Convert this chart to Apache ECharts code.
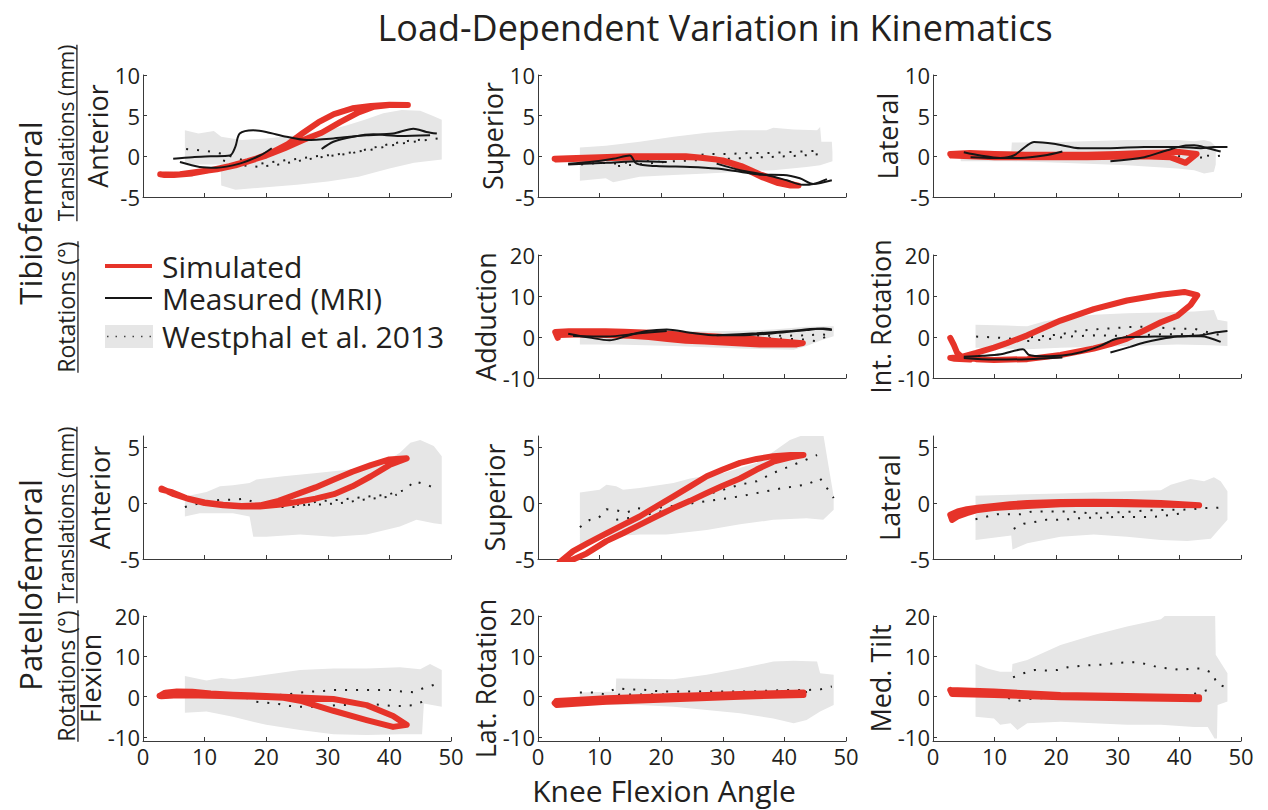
<!DOCTYPE html>
<html>
<head>
<meta charset="utf-8">
<script src="https://cdn.jsdelivr.net/npm/echarts@6/dist/echarts.min.js"></script>
<style>
  html, body { margin: 0; padding: 0; background: #ffffff; }
  #chart { width: 1268px; height: 810px; }
</style>
</head>
<body>
<div id="chart"></div>
<script>
// ---------- Tibiofemoral translations (mm) ----------
const tfAntHi = [[6.8,3.2],[9,2.8],[11.5,3.1],[12.7,2.4],[16,2.0],[20,2.2],[25,2.6],[30,3.2],[33,3.8],[36,4.5],[39,5.3],[42,5.7],[45,5.6],[47,5.0],[48.5,4.5]];
const tfAntLo = [[6.8,-1.0],[12.6,-1.0],[12.7,-3.6],[15,-4.1],[20,-3.8],[25,-3.5],[30,-3.1],[35,-2.5],[40,-1.5],[44,-0.8],[48.5,-0.4]];
const tfAntRefA = [[7,0.9],[10,0.7],[13,0.3],[16,-0.4],[19,-0.9],[22,-0.6],[25,-0.3],[28,0],[31,0.2],[34,0.5],[37,0.8],[40,1.3],[43,1.7],[46,2.0],[48,2.2]];
const tfAntRefB = [[13,-0.5],[16,-1.1],[19,-1.3],[22,-1.0],[25,-0.6],[28,-0.2],[31,0.1],[34,0.4],[37,1.0],[40,1.5],[43,1.9],[46,2.1]];
const tfAntSim = [[2.8,-2.2],[5,-2.3],[8,-2.1],[11,-1.7],[14,-1.2],[17,-0.6],[20,0.1],[23,1.0],[26,2.0],[29,2.9],[32,4.2],[35,5.4],[37.5,6.1],[40,6.3],[43,6.3],[40,6.35],[37,6.2],[34,5.9],[31,5.2],[28.5,4.2],[26,2.9],[23.5,1.5],[21,0.5],[18,-0.4],[15,-1.1],[12,-1.6],[9,-1.9],[6,-2.2],[3.5,-2.3],[2.8,-2.2]];
const tfAntMri1 = [[4.9,-0.3],[8,-0.1],[11,0],[14.1,0.1],[15,1.2],[15.7,2.8],[17.9,3.2],[20,3.0],[23.3,2.4],[26.6,2.0],[30.9,2.2],[36.3,2.6],[40.6,2.8],[43.9,3.4],[46,3.0],[47.7,2.8]];
const tfAntMri2 = [[6,-0.7],[9.2,-1.3],[11.9,-1.4],[15.7,-0.9],[19,0.1],[20.9,1.0]];
const tfAntMri3 = [[29,0.9],[30.9,1.8],[34.1,2.4],[37.4,2.7],[41.7,2.5],[46.6,2.6]];

const tfSupHi = [[6.8,1.1],[11,1.3],[16.5,1.8],[22,2.4],[27.4,2.9],[32.8,3.2],[37.1,3.2],[38.2,3.5],[41.5,3.3],[45.3,3.2],[45.8,3.6],[46,1.8],[47.7,1.8],[47.8,0.5]];
const tfSupLo = [[6.8,-3.0],[11,-2.7],[12.2,-3.2],[16.5,-2.5],[22,-2.3],[27.4,-2.1],[32.8,-1.9],[38.2,-1.7],[43.6,-1.3],[45.8,-1.1],[47.8,-0.6]];
const tfSupRefA = [[7,-1.0],[10,-0.8],[13,-0.9],[16,-0.6],[19,-0.4],[22,-0.2],[25,0.1],[28,0.3],[31,0.3],[34,0.4],[37,0.4],[40,0.5],[43,0.6],[46,0.7]];
const tfSupRefB = [[13,-1.2],[16,-1.0],[19,-0.8],[22,-0.6],[25,-0.5],[28,-0.4],[31,-0.3],[34,-0.2],[37,-0.1],[40,0],[43,0.1],[46,0.3]];
const tfSupSim = [[2.7,-0.3],[5,-0.25],[10,-0.1],[15,0],[20,0],[24,0],[27,-0.2],[30,-0.5],[33,-1.2],[36,-2.2],[39,-3.0],[41,-3.4],[42.3,-3.6],[41,-3.6],[39,-3.3],[36.5,-2.6],[34,-1.7],[31.5,-0.9],[29,-0.4],[26,-0.15],[22,-0.05],[17,-0.1],[12,-0.2],[7,-0.3],[3,-0.4]];
const tfSupMri1 = [[4.9,-0.9],[8.4,-0.7],[12.2,-0.3],[14.9,0.1],[16,-0.9],[19.2,-1.2],[24.7,-1.3],[29,-1.5],[32.8,-1.9],[36,-2.25],[39.8,-2.3],[42.5,-2.7],[44.7,-3.4],[47.7,-2.95]];
const tfSupMri2 = [[4.9,-1.0],[11.1,-0.8],[16.5,-0.6],[20.9,-0.7]];
const tfSupMri3 = [[29,-0.9],[32.8,-1.7],[37.1,-2.3],[40.4,-2.95],[43,-3.5],[44.7,-3.4],[46.9,-2.8]];

const tfLatHi = [[4.5,0.6],[12.7,0.6],[12.8,1.7],[20.7,1.75],[31.5,2.0],[39.7,2.0],[42.4,1.85],[44,2.0],[45.1,1.8],[45.9,1.2]];
const tfLatLo = [[4.5,-0.6],[12.7,-0.6],[20.7,-0.8],[31.5,-1.1],[39.7,-1.5],[42.4,-1.7],[44,-2.1],[45.6,-1.9],[45.9,-1.0]];
const tfLatRefA = [[7,0.4],[12,0.35],[17,0.3],[22,0.3],[27,0.3],[32,0.3],[37,0.3],[42,0.3],[44.5,0.1],[46,0.0],[47.5,0.2]];
const tfLatRefB = [[13,-0.1],[20,0],[30,0],[40,0],[45,-0.2]];
const tfLatSim = [[2.8,0.3],[6,0.4],[10,0.3],[15,0.2],[20,0.2],[25,0.2],[30,0.3],[34,0.4],[37,0.45],[40,0.55],[42.8,0.3],[41,-0.8],[38.5,-0.1],[34,0],[30,-0.05],[25,-0.1],[20,-0.1],[15,-0.1],[10,-0.1],[6,0],[3,0.1]];
const tfLatMri1 = [[5,0.5],[7.7,0.1],[10.9,-0.2],[13.1,0.1],[15.3,1.35],[16.4,1.75],[19.6,1.55],[24,1.0],[28.8,1.0],[34.3,1.15],[39.7,1.15],[43.5,1.0],[45.6,1.15],[47.8,1.15]];
const tfLatMri2 = [[6.1,-0.1],[9.9,-0.2],[14.2,-0.2],[18,0.1],[21,0.6]];
const tfLatMri3 = [[28.8,-0.6],[34.3,-0.1],[38,0.75],[40.8,1.3],[42.4,1.35],[44.6,1.0],[46.7,0.6]];

// ---------- Tibiofemoral rotations (deg) ----------
const addHi = [[6.8,1.0],[12,1.4],[16.5,1.8],[22,1.6],[27.4,1.4],[33,1.5],[38.2,1.8],[43.6,2.5],[48,2.6]];
const addLo = [[6.8,-1.8],[12.7,-1.8],[22,-2.2],[32.8,-2.8],[41.5,-3.1],[43.6,-2.2],[46.3,-0.6],[48,0.2]];
const addRefA = [[7,0.6],[10,0.6],[13,0.5],[16,0.6],[19,0.6],[22,0.5],[25,0.5],[28,0.4],[31,0.4],[34,0.3],[37,0.3],[40,0.3],[43,0.4],[46,0.6],[48,0.5]];
const addRefB = [[25,0.1],[28,0],[31,-0.1],[34,-0.2],[37,-0.3],[40,-0.4],[43,-0.6],[45,-1.0],[47,0.2]];
const addSim = [[3.2,-0.2],[2.8,1.2],[5,1.4],[8,1.4],[11,1.4],[14,1.3],[17,1.1],[20,0.9],[23,0.6],[26,0.35],[29,0.1],[32,-0.2],[35,-0.5],[38,-0.9],[41,-1.3],[43,-1.5],[42,-1.8],[39,-1.8],[36,-1.8],[33,-1.6],[30,-1.35],[27,-1.1],[24,-0.9],[21,-0.5],[18,0],[15,0.3],[12,0.45],[9,0.6],[6,0.6],[3.5,0.5]];
const addMri1 = [[4.9,0.8],[8.4,-0.15],[11.6,-0.8],[14.4,0.25],[17.6,1.45],[20.9,1.85],[24.7,1.05],[29,0.4],[32.8,0.4],[38.2,0.9],[43.6,1.7],[46.3,2.1],[47.7,1.85]];
const addMri2 = [[5.7,0.25],[11.1,0.1],[16.5,0.9],[20.9,1.45]];
const addMri3 = [[29,0.4],[35.5,0.9],[40.9,1.45],[45.3,2.0],[47.7,1.7]];

const intRotHi = [[6.9,3.0],[12,2.8],[15.3,2.6],[18,3.8],[20.7,4.6],[26.1,5.4],[31.5,5.8],[37,6.0],[42.4,6.2],[45.6,6.6],[46.2,4.2],[47.8,3.8]];
const intRotLo = [[6.9,-2.6],[15.3,-3.0],[20.7,-2.6],[31.5,-2.2],[39.7,-1.8],[45.1,-2.0],[47.8,-2.2]];
const intRotRefA = [[7,0.1],[9.9,-0.1],[12.6,-0.4],[15.3,-0.15],[18,0.25],[20.7,0.65],[23.4,1.45],[26.1,1.85],[28.8,2.1],[31.5,2.4],[34.3,2.5],[37,2.25],[39.7,2.0],[42.4,2.0],[45.1,1.0],[47.3,0.25]];
const intRotRefB = [[15.3,-1.0],[18.5,-0.55],[21.8,0.1],[26.1,0.4],[31.5,0.25],[37,0.65],[42.4,0.65],[45.6,0.65]];
const intRotSim = [[2.8,-0.2],[3.4,-2.0],[3.9,-3.8],[4.6,-4.8],[7,-5.4],[9.9,-5.6],[15.3,-5.4],[20.7,-4.4],[26.1,-2.8],[28.8,-1.75],[31.5,-0.4],[34.3,1.6],[37,3.6],[39.7,5.2],[41.8,7.8],[42.9,10.2],[40.8,11.0],[37,10.3],[31.5,8.9],[26.1,6.8],[20.7,4.0],[15.3,0.4],[12,-1.5],[9.9,-2.6],[7,-3.9],[4.5,-4.9],[2.8,-5.1],[3.5,-5.3],[6,-5.5]];
const intRotMri1 = [[5,-4.8],[8,-4.6],[11,-4.2],[14.6,-3.0],[15.6,-4.4],[18,-4.7],[21,-4.5],[24,-3.7],[27,-2.3],[29.4,-0.6],[32,0],[36,0.1],[40,0.2],[43.5,0.2],[46.7,-1.2]];
const intRotMri2 = [[5,-5.1],[9.9,-5.5],[15.3,-5.4],[21,-5.0]];
const intRotMri3 = [[28.8,-3.8],[32,-2.4],[34.3,-1.35],[37,-0.5],[39.7,0.1],[43.5,0.4],[45.6,1.05],[47.8,1.45]];

// ---------- Patellofemoral translations (mm) ----------
const pfAntHi = [[6.8,0.6],[10.3,1.0],[12.5,1.5],[14.6,1.6],[17.3,1.8],[18.4,2.1],[22.8,2.4],[28.2,2.7],[33.6,3.0],[39,3.6],[41.7,4.5],[43.4,5.4],[45,5.65],[47.2,5.1],[48.5,4.2]];
const pfAntLo = [[6.8,-1.2],[9.2,-0.9],[14.6,-0.9],[17.3,-1.2],[17.9,-3.0],[20,-3.0],[25.5,-2.8],[30.9,-3.0],[36.3,-2.8],[41.7,-2.1],[44.4,-1.5],[47.2,-1.8],[48.5,-1.9]];
const pfAntRefA = [[6.8,-0.35],[9.2,0],[12.5,0.3],[14.6,0.3],[16.5,0.4],[20,-0.35],[25,-0.35],[28.2,0.15],[32,0.3],[35.8,0.55],[39.6,0.75],[42.8,1.2],[43.9,1.95],[46.1,1.65],[47.7,1.2]];
const pfAntRefB = [[25,-0.15],[28.2,-0.15],[32,0],[35.8,0.3],[39.6,0.55],[41.2,0.75]];
const pfAntSim = [[3,1.3],[5,0.8],[7.5,0.35],[10,0.0],[13,-0.2],[16,-0.3],[19,-0.3],[22,-0.15],[25,0.1],[28,0.4],[31,0.8],[34,1.5],[37,2.4],[40,3.4],[42.8,4.0],[40,3.9],[37,3.4],[34,2.8],[31,2.1],[28,1.4],[25,0.8],[22,0.2],[19,-0.2],[16,-0.25],[13,-0.15],[10,0.05],[7,0.45],[4.5,1.0],[3,1.2]];

const pfSupHi = [[6.8,0.95],[10,1.2],[11.1,1.65],[12.7,1.5],[13.8,1.2],[16.5,1.35],[22,1.8],[24.7,2.2],[30.1,2.7],[35.5,3.6],[38.2,4.6],[40.9,5.65],[43.6,6.2],[46.3,6.2],[46.9,4.2],[48,0.6]];
const pfSupLo = [[6.8,-3.7],[11.1,-3.0],[16.5,-2.8],[20.9,-2.8],[27.4,-2.4],[32.8,-1.9],[38.2,-1.5],[43.6,-1.35],[46.3,-1.5],[48,-0.6]];
const pfSupRefA = [[6.8,-2.15],[8.4,-1.5],[9.8,-1.35],[11.1,-0.55],[12.7,-0.65],[14.4,-0.85],[16,-0.45],[17.6,-0.55],[22,-0.25],[27.4,0.75],[32.8,1.65],[35.5,1.95],[38.2,2.7],[40.9,3.3],[43.6,3.9],[45.3,4.3]];
const pfSupRefB = [[12.7,-1.5],[16.5,-1.2],[22,-0.45],[25.2,0],[29,0.3],[32.8,0.6],[36,0.95],[39.8,1.35],[43.6,1.65],[45.8,2.2],[46.9,1.35],[48,0.45]];
const pfSupSim = [[3.5,-5.3],[5.7,-4.3],[8,-3.6],[11.1,-2.7],[13.8,-1.95],[16.5,-1.2],[19.2,-0.3],[22,0.6],[24.7,1.5],[27.4,2.4],[30,3.0],[32.8,3.6],[35.5,3.95],[38.2,4.2],[41,4.3],[43.1,4.3],[41,4.1],[38.2,3.7],[35.5,3.0],[32.8,2.2],[30,1.55],[27.4,0.9],[24.7,0.2],[22,-0.45],[19.2,-1.2],[16.5,-1.95],[13.8,-2.7],[11.1,-3.4],[7.9,-4.5],[5.7,-5.05],[3.5,-5.5]];

const pfLatHi = [[6.9,0.65],[12.6,0.75],[20.7,0.85],[31.5,1.05],[37,1.15],[38.6,1.65],[41.8,2.15],[44,1.95],[45.6,2.3],[46.7,1.95],[47.8,1.05]];
const pfLatLo = [[6.9,-3.3],[12.7,-2.9],[12.9,-4.15],[15.3,-3.6],[20.7,-3.0],[26.1,-2.8],[31.5,-3.0],[37,-3.3],[41.3,-3.4],[45.1,-3.2],[47.8,-1.5]];
const pfLatRefA = [[6.9,-1.45],[8.8,-1.2],[10.4,-1.0],[12.3,-1.0],[14.2,-1.0],[16.1,-0.75],[18,-0.75],[19.6,-0.75],[21.5,-0.75],[23.4,-0.8],[25.3,-0.9],[27.2,-0.9],[29.1,-0.85],[31,-0.8],[32.6,-0.75],[34.5,-0.65],[36.4,-0.65],[38,-0.6],[40.2,-0.6],[42.1,-0.55],[43.7,-0.45],[45.6,-0.45],[47.3,-0.35]];
const pfLatRefB = [[13.1,-2.3],[14.7,-1.85],[16.4,-1.7],[18.3,-1.5],[20.2,-1.5],[21.8,-1.45],[23.7,-1.35],[25.6,-1.3],[27.5,-1.3],[29.4,-1.25],[31.3,-1.25],[33.2,-1.25],[34.8,-1.25],[36.7,-1.2],[38.6,-1.05],[40.5,-0.9]];
const pfLatSim = [[3.1,-1.5],[2.8,-1.05],[4,-0.75],[5.5,-0.55],[7.5,-0.4],[9.9,-0.25],[12.5,-0.1],[15.3,0],[20.7,0.1],[26.1,0.12],[31.5,0.1],[37,0],[43.2,-0.2],[37,-0.15],[26.1,-0.05],[20.7,-0.1],[15.3,-0.25],[9.9,-0.45],[7,-0.65],[5.5,-0.9],[4,-1.2],[3.1,-1.5]];

// ---------- Patellofemoral rotations (deg) ----------
const flexHi = [[6.8,5.1],[10.3,4.0],[12.7,4.6],[14.6,4.3],[20,5.4],[25.5,6.6],[30.9,7.0],[36.3,7.0],[41.7,7.3],[45,6.8],[46.6,8.1],[48.5,6.6]];
const flexLo = [[6.8,-4.0],[10.3,-3.7],[14.6,-5.0],[20,-7.0],[25.5,-8.3],[30.9,-9.3],[36.3,-9.5],[41.7,-9.3],[45.3,-9.3],[45.6,-1.7],[48.5,-2.5]];
const flexRefA = [[16.8,-0.4],[23.8,0.65],[25.5,1.0],[27.4,1.25],[29.3,1.4],[30.9,1.65],[32.8,1.65],[34.7,1.65],[36.6,1.65],[38.5,1.65],[40.4,1.65],[42,1.25],[43.9,1.1],[45.5,2.1],[47.2,2.9]];
const flexRefB = [[18.4,-1.25],[20,-1.5],[22,-1.8],[23.8,-2.3],[25.7,-2.5],[27.6,-2.5],[29.5,-2.5],[31.2,-2.1],[33,-2.1],[35,-1.8],[36.9,-1.8],[38.8,-2.1],[40.4,-2.3],[42.3,-2.3],[43.9,-2.1],[45.8,-1.0]];
const flexSim = [[2.7,0.2],[3.6,1.0],[5.5,1.3],[8,1.2],[11,0.8],[14.6,0.5],[20,0.15],[25.5,-0.2],[30.9,-0.6],[36.3,-2.1],[40.6,-4.8],[42.8,-7.0],[40.6,-7.5],[36.3,-5.8],[30.9,-3.5],[25.5,-1.0],[22.8,-0.3],[20,-0.1],[14.6,0.1],[9,0.3],[5,0.3],[3,0.1],[2.7,0.2]];

const latRotHi = [[6.8,1.0],[12.6,1.25],[12.7,4.5],[22,4.3],[27.4,5.4],[32.8,7.0],[38.2,8.7],[41.5,8.9],[45.3,8.7],[45.8,5.8],[48,5.4]];
const latRotLo = [[6.8,-2.1],[16.5,-2.1],[22,-2.5],[27.4,-3.3],[32.8,-4.1],[38.2,-5.4],[41.5,-6.6],[43.6,-5.8],[45.8,-3.7],[48,-2.1]];
const latRotRefA = [[6.8,1.0],[8.9,1.0],[10.8,0.6],[12.7,2.1],[14.6,1.8],[16.5,1.8],[18.4,1.5],[20.3,1.25],[22.2,1.25],[24.1,1.25],[26,1.25],[27.9,1.25],[29.5,1.25],[31.4,1.25],[33.3,1.25],[40.4,1.65],[43.9,1.65],[45.8,1.8],[47.7,2.5]];
const latRotRefB = [[13,0.5],[20,0.6],[30,0.7],[40,0.9],[44,1.2]];
const latRotSim = [[3,-1.1],[11.1,-0.4],[22,0.15],[32.8,0.65],[43.1,1.0],[43.1,0.4],[32.8,0],[22,-0.65],[11.1,-1.25],[3,-2.05],[2.7,-1.6],[3,-1.1]];

const tiltHi = [[6.9,8.1],[8.8,7.0],[10.9,6.2],[12.8,6.2],[12.9,8.1],[15.3,9.1],[20.7,12.8],[26.1,15.3],[31.5,17.4],[37,19.2],[38,20.5],[45.8,20.5],[45.9,10.4],[47.8,5.8]];
const tiltLo = [[6.9,-5.0],[9.9,-5.4],[10.9,-7.0],[12.6,-6.6],[13.7,-8.3],[15.3,-6.6],[20.7,-6.2],[26.1,-6.6],[31.5,-7.0],[37,-7.0],[42.4,-7.5],[44.6,-7.5],[45.7,-10.4],[46.1,-10.4],[46.2,-2.1],[47.8,-1.2]];
const tiltRefA = [[13,4.8],[14.7,5.8],[16.5,6.6],[18.3,6.5],[20.2,6.6],[21.9,7.3],[23.8,7.6],[25.6,7.8],[27.5,7.95],[29.4,8.3],[31.3,8.5],[33.1,8.5],[34.9,8.0],[36.7,7.2],[38.5,7.0],[40.2,6.6],[42.1,7.0],[43.7,7.0],[45.4,5.8],[46.1,3.1],[47.7,2.3]];
const tiltRefB = [[8.8,1.4],[13.7,-1.1],[16.4,-0.4],[24,-0.4],[28,-0.4],[37,0.4],[40.8,0.4],[42.7,0.8],[44.6,1.65]];
const tiltSim = [[2.8,1.65],[9.9,1.25],[20.7,0.4],[31.5,0.15],[43.2,-0.15],[43.2,-0.65],[31.5,-0.4],[20.7,-0.15],[9.9,0.4],[3.1,0.65],[2.8,1.65]];

// ---------- Axis ticks and text ----------
const xTicks = [0, 10, 20, 30, 40, 50];
const yTicksTrans = [-5, 0, 5, 10];
const yTicksRot = [-10, 0, 10, 20];
const yTicksPfTrans = [-5, 0, 5];
const titleText = 'Load-Dependent Variation in Kinematics';
const xAxisTitle = 'Knee Flexion Angle';
const legendLabels = ['Simulated', 'Measured (MRI)', 'Westphal et al. 2013'];

// ---------- Layout and styling ----------
const FONT = '"Open Sans", sans-serif';
const TEXT = '#231f20';
const AXIS = '#3a3a3a';
const RED = '#e63329';
const BAND = '#e6e6e6';
const COLS = [143, 538, 933];
const PLOT_W = 308;
const ROWS = [
  { top: 75,  height: 122, min: -5,  max: 10, ticks: yTicksTrans },
  { top: 255, height: 123, min: -10, max: 20, ticks: yTicksRot },
  { top: 436, height: 123, min: -5,  max: 6,  ticks: yTicksPfTrans },
  { top: 616, height: 125, min: -11, max: 20, ticks: yTicksRot }
];

const panels = [
  { row: 0, col: 0, name: 'Anterior',      hi: tfAntHi,  lo: tfAntLo,  refs: [tfAntRefA, tfAntRefB],   sim: tfAntSim,  mri: [tfAntMri1, tfAntMri2, tfAntMri3] },
  { row: 0, col: 1, name: 'Superior',      hi: tfSupHi,  lo: tfSupLo,  refs: [tfSupRefA, tfSupRefB],   sim: tfSupSim,  mri: [tfSupMri1, tfSupMri2, tfSupMri3] },
  { row: 0, col: 2, name: 'Lateral',       hi: tfLatHi,  lo: tfLatLo,  refs: [tfLatRefA, tfLatRefB],   sim: tfLatSim,  mri: [tfLatMri1, tfLatMri2, tfLatMri3] },
  { row: 1, col: 1, name: 'Adduction',     hi: addHi,    lo: addLo,    refs: [addRefA, addRefB],       sim: addSim,    mri: [addMri1, addMri2, addMri3] },
  { row: 1, col: 2, name: 'Int. Rotation', hi: intRotHi, lo: intRotLo, refs: [intRotRefA, intRotRefB], sim: intRotSim, mri: [intRotMri1, intRotMri2, intRotMri3] },
  { row: 2, col: 0, name: 'Anterior',      hi: pfAntHi,  lo: pfAntLo,  refs: [pfAntRefA, pfAntRefB],   sim: pfAntSim,  mri: [] },
  { row: 2, col: 1, name: 'Superior',      hi: pfSupHi,  lo: pfSupLo,  refs: [pfSupRefA, pfSupRefB],   sim: pfSupSim,  mri: [] },
  { row: 2, col: 2, name: 'Lateral',       hi: pfLatHi,  lo: pfLatLo,  refs: [pfLatRefA, pfLatRefB],   sim: pfLatSim,  mri: [] },
  { row: 3, col: 0, name: 'Flexion',       hi: flexHi,   lo: flexLo,   refs: [flexRefA, flexRefB],     sim: flexSim,   mri: [] },
  { row: 3, col: 1, name: 'Lat. Rotation', hi: latRotHi, lo: latRotLo, refs: [latRotRefA, latRotRefB], sim: latRotSim, mri: [] },
  { row: 3, col: 2, name: 'Med. Tilt',     hi: tiltHi,   lo: tiltLo,   refs: [tiltRefA, tiltRefB],     sim: tiltSim,   mri: [] }
];

const grids = [], xAxes = [], yAxes = [], series = [];

panels.forEach((p, i) => {
  const r = ROWS[p.row];
  grids.push({ left: COLS[p.col], top: r.top, width: PLOT_W, height: r.height });
  xAxes.push({
    type: 'value', gridIndex: i, min: 0, max: 50, interval: 10,
    axisLine: { onZero: false, lineStyle: { color: AXIS, width: 1 } },
    axisTick: { inside: true, length: 4, customValues: xTicks, lineStyle: { color: AXIS } },
    axisLabel: { show: p.row === 3, customValues: xTicks, fontSize: 22, fontFamily: FONT, color: TEXT, margin: 4 },
    splitLine: { show: false }
  });
  yAxes.push({
    type: 'value', gridIndex: i, min: r.min, max: r.max,
    name: p.name, nameLocation: 'middle', nameRotate: 90, nameGap: 30,
    nameTextStyle: { fontSize: 27, fontFamily: FONT, color: TEXT },
    axisLine: { show: true, onZero: false, lineStyle: { color: AXIS, width: 1 } },
    axisTick: { show: true, inside: true, length: 4, customValues: r.ticks, lineStyle: { color: AXIS } },
    axisLabel: { customValues: r.ticks, fontSize: 22, fontFamily: FONT, color: TEXT, margin: 3 },
    splitLine: { show: false }
  });

  // Spread of the reference data set
  const hi = p.hi, lo = p.lo;
  series.push({
    type: 'custom', xAxisIndex: i, yAxisIndex: i, silent: true, clip: true, z: 1,
    data: [[hi[0][0], hi[0][1]]],
    renderItem: (params, api) => {
      const pts = hi.map(d => api.coord(d));
      for (let k = lo.length - 1; k >= 0; k--) pts.push(api.coord(lo[k]));
      return { type: 'polygon', shape: { points: pts }, style: { fill: BAND } };
    }
  });
  // Reference mean curves (dotted)
  p.refs.forEach(ref => series.push({
    type: 'line', xAxisIndex: i, yAxisIndex: i, data: ref, showSymbol: false, silent: true, z: 2,
    lineStyle: { color: '#1e1e1e', width: 2, type: [2, 9] }
  }));
  // Simulated loop
  series.push({
    type: 'line', xAxisIndex: i, yAxisIndex: i, data: p.sim, showSymbol: false, silent: true, z: 3,
    lineStyle: { color: RED, width: 6, cap: 'round', join: 'round' }
  });
  // Measured MRI traces
  p.mri.forEach(m => series.push({
    type: 'line', xAxisIndex: i, yAxisIndex: i, data: m, showSymbol: false, silent: true, z: 4, smooth: 0.3,
    lineStyle: { color: '#161616', width: 2 }
  }));
});

// Width of a string in a given font, for the underlines
const measureCtx = document.createElement('canvas').getContext('2d');
function textWidth(str, size) {
  measureCtx.font = size + 'px ' + FONT;
  return measureCtx.measureText(str).width;
}

const graphics = [];
function vText(str, x, y, size, underline) {
  graphics.push({
    type: 'text', x: x, y: y, rotation: Math.PI / 2, silent: true,
    style: { text: str, fontSize: size, fontFamily: FONT, fill: TEXT, align: 'center', verticalAlign: 'middle' }
  });
  if (underline) {
    const w = textWidth(str, size);
    const ux = x + size * 0.52;
    graphics.push({ type: 'line', silent: true, shape: { x1: ux, y1: y - w / 2, x2: ux, y2: y + w / 2 }, style: { stroke: TEXT, lineWidth: 1.3 } });
  }
}
function hText(str, x, y, size, align) {
  graphics.push({
    type: 'text', x: x, y: y, silent: true,
    style: { text: str, fontSize: size, fontFamily: FONT, fill: TEXT, align: align || 'center', verticalAlign: 'middle' }
  });
}

hText(titleText, 715, 27, 36);
hText(xAxisTitle, 664, 790, 30);
vText('Tibiofemoral', 30, 213, 31, false);
vText('Patellofemoral', 30, 585, 31, false);
vText('Translations (mm)', 66, 133, 21, true);
vText('Rotations (°)', 66, 307, 23, true);
vText('Translations (mm)', 66, 515, 21, true);
vText('Rotations (°)', 66, 676, 23, true);

// Legend
graphics.push({ type: 'line', silent: true, shape: { x1: 105, y1: 266, x2: 152, y2: 266 }, style: { stroke: RED, lineWidth: 4 } });
graphics.push({ type: 'line', silent: true, shape: { x1: 105, y1: 298, x2: 152, y2: 298 }, style: { stroke: '#161616', lineWidth: 2 } });
graphics.push({ type: 'rect', silent: true, shape: { x: 105, y: 325, width: 48, height: 23 }, style: { fill: BAND } });
graphics.push({ type: 'line', silent: true, shape: { x1: 107, y1: 336.5, x2: 152, y2: 336.5 }, style: { stroke: '#444', lineWidth: 1.5, lineDash: [1.5, 7] } });
hText(legendLabels[0], 162, 266, 30, 'left');
hText(legendLabels[1], 162, 298, 30, 'left');
hText(legendLabels[2], 162, 336, 30, 'left');

const chart = echarts.init(document.getElementById('chart'), null, { renderer: 'svg' });
chart.setOption({
  animation: false,
  backgroundColor: '#ffffff',
  grid: grids,
  xAxis: xAxes,
  yAxis: yAxes,
  series: series,
  graphic: graphics
});
</script>
</body>
</html>
